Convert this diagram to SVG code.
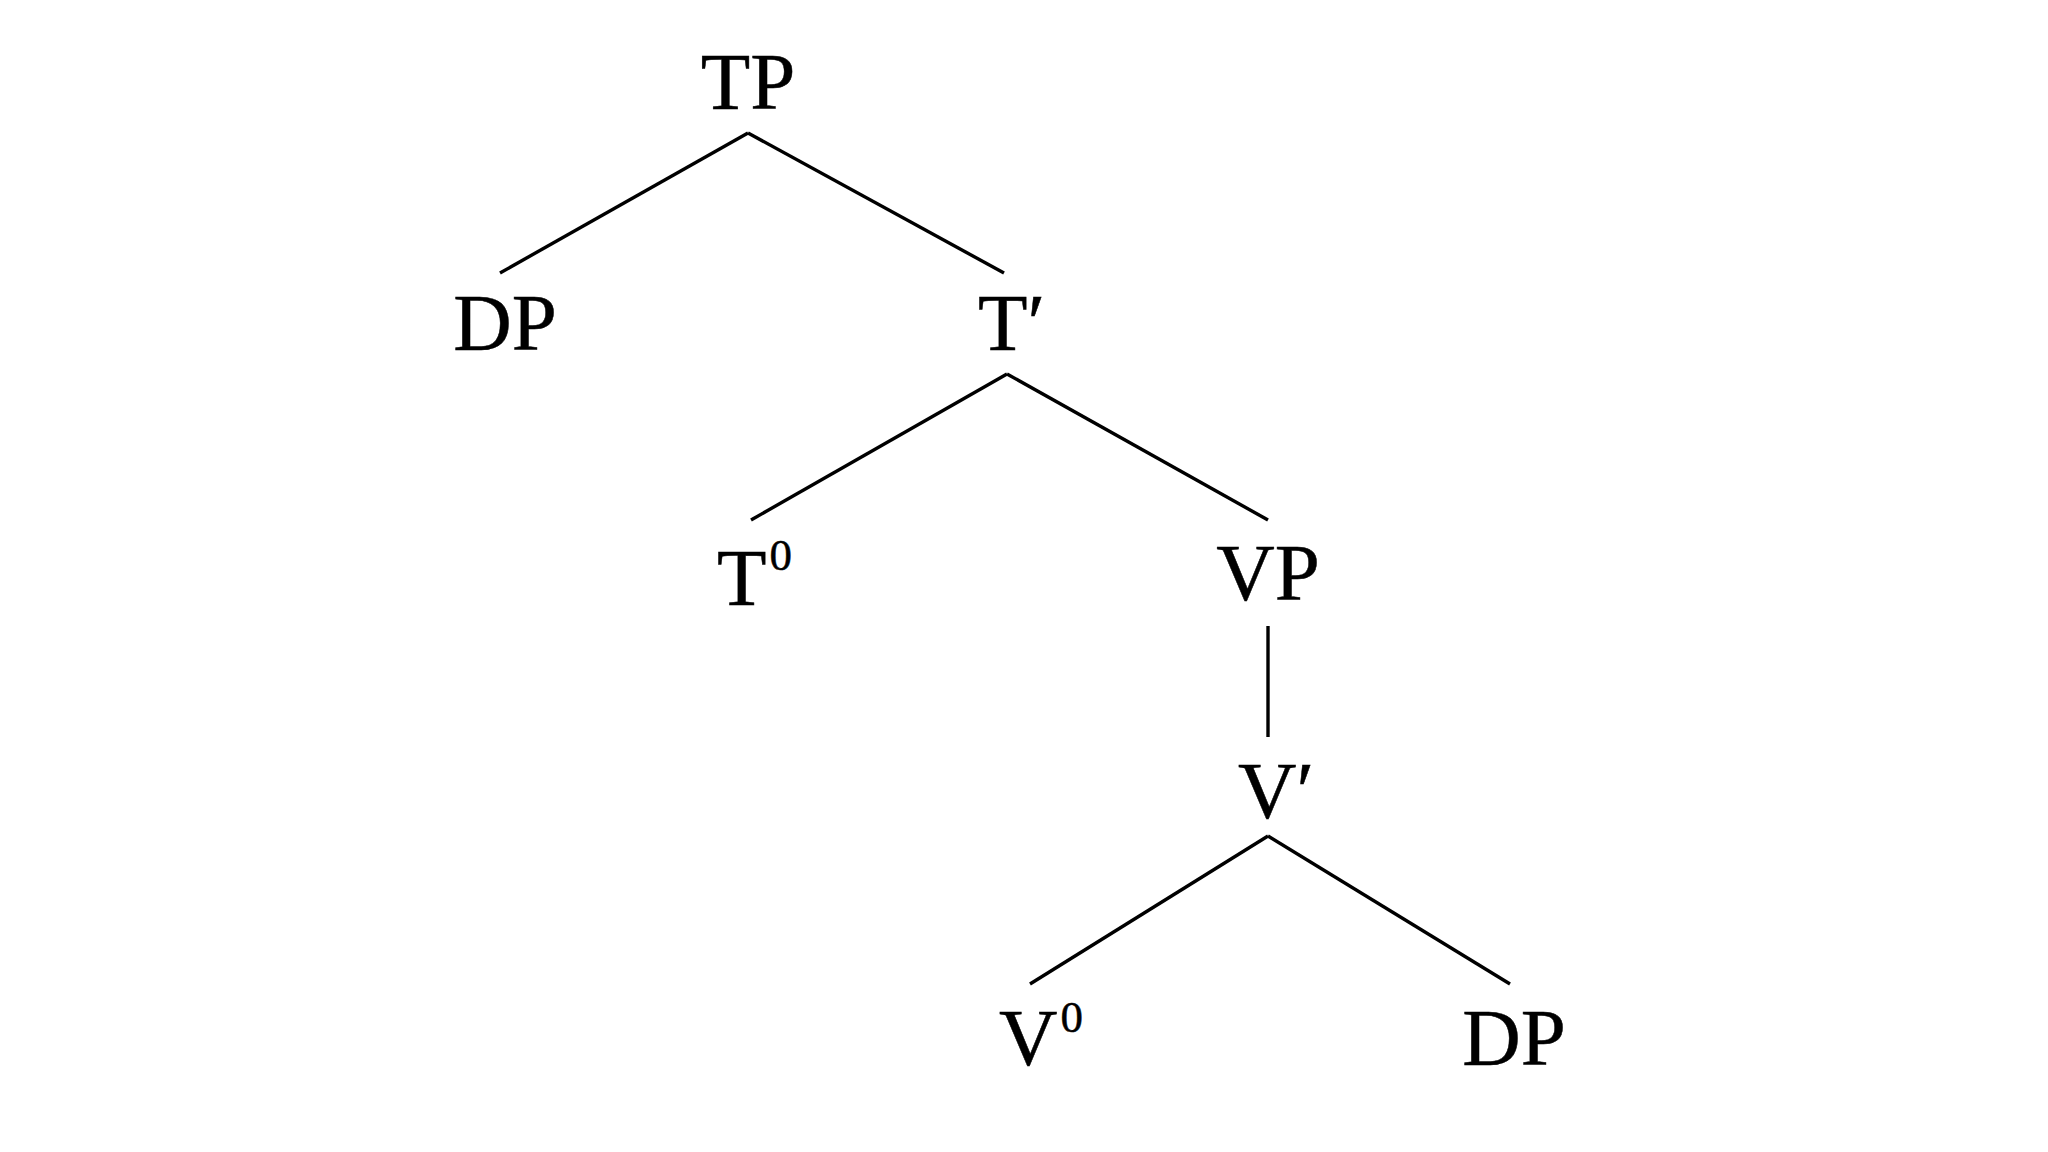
<svg xmlns="http://www.w3.org/2000/svg" width="2048" height="1152" viewBox="0 0 2048 1152">
<style>
.lbl{font-family:"Liberation Serif","Times New Roman","DejaVu Serif",serif;font-size:81px;fill:#000;stroke:#000;stroke-width:0.5}
.sup{font-size:45px}
.edge{stroke:#000;stroke-width:3.4;fill:none;stroke-linecap:butt}
</style>
<rect x="0" y="0" width="2048" height="1152" fill="#ffffff"/>
<g id="connectors">
<line class="edge" x1="748" y1="133" x2="500" y2="273"/>
<line class="edge" x1="748" y1="133" x2="1004" y2="273"/>
<line class="edge" x1="1007" y1="374" x2="751" y2="520"/>
<line class="edge" x1="1007" y1="374" x2="1268" y2="520"/>
<line class="edge" x1="1268" y1="626" x2="1268" y2="737"/>
<line class="edge" x1="1268" y1="836" x2="1030" y2="984"/>
<line class="edge" x1="1268" y1="836" x2="1510" y2="984"/>
</g>
<g id="node-TP"><text class="lbl" x="748" y="109" text-anchor="middle">TP</text></g>
<g id="node-DP1"><text class="lbl" x="505" y="350" text-anchor="middle">DP</text></g>
<g id="node-Tbar"><text class="lbl" x="978" y="350">T′</text></g>
<g id="node-T0"><text class="lbl" x="717" y="605">T<tspan class="sup" dx="3" dy="-35">0</tspan></text></g>
<g id="node-VP"><text class="lbl" x="1268" y="600" text-anchor="middle">VP</text></g>
<g id="node-Vbar"><text class="lbl" x="1238" y="818">V′</text></g>
<g id="node-V0"><text class="lbl" x="999" y="1065">V<tspan class="sup" dx="3" dy="-33">0</tspan></text></g>
<g id="node-DP2"><text class="lbl" x="1514" y="1065" text-anchor="middle">DP</text></g>
</svg>
